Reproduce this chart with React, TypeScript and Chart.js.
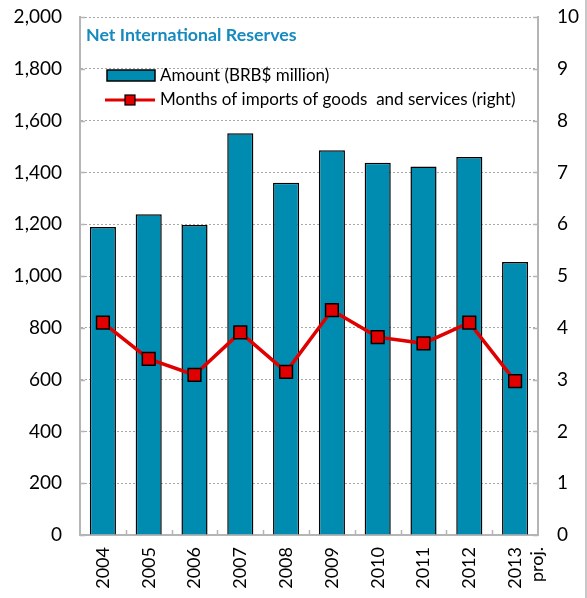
import React, { useEffect, useRef } from "react";
import { Chart, registerables } from "chart.js";

Chart.register(...registerables);

const years = ["2004", "2005", "2006", "2007", "2008", "2009", "2010", "2011", "2012", "2013"];
const projNote = "proj.";
const amounts = [1189, 1238, 1197, 1551, 1360, 1486, 1437, 1423, 1459, 1054];
const months = [4.1, 3.4, 3.09, 3.91, 3.15, 4.34, 3.82, 3.7, 4.1, 2.97];
const chartTitle = "Net International Reserves";
const amountLabel = "Amount (BRB$ million)";
const monthsLabel = "Months of imports of goods  and services (right)";

const FONT = "Lato, 'Open Sans', sans-serif";
const BAR = "#008BB0";
const RED = "#E00000";
const AXIS = "#B5B5B5";

const overlay = {
  id: "overlay",
  afterDraw(chart: any) {
    const ctx = chart.ctx;
    const a = chart.chartArea;
    const y = chart.scales.y;
    const y1 = chart.scales.y1;
    const x = chart.scales.x;
    ctx.save();
    ctx.strokeStyle = AXIS;
    ctx.lineWidth = 1.5;
    ctx.beginPath();
    for (let v = 0; v <= 2000; v += 200) {
      const py = Math.round(y.getPixelForValue(v)) + 0.5;
      ctx.moveTo(a.left, py);
      ctx.lineTo(a.left + 5, py);
    }
    for (let v = 0; v <= 10; v += 1) {
      const py = Math.round(y1.getPixelForValue(v)) + 0.5;
      ctx.moveTo(a.right - 5, py);
      ctx.lineTo(a.right, py);
    }
    const n = chart.data.labels.length;
    for (let i = 1; i < n; i++) {
      const px = Math.round((x.getPixelForValue(i - 1) + x.getPixelForValue(i)) / 2) + 0.5;
      ctx.moveTo(px, a.bottom);
      ctx.lineTo(px, a.bottom - 5);
    }
    ctx.stroke();
    ctx.beginPath();
    ctx.moveTo(chart.width - 1, 0);
    ctx.lineTo(chart.width - 1, chart.height);
    ctx.stroke();

    ctx.fillStyle = "#168ABF";
    ctx.font = `bold 17.8px ${FONT}`;
    ctx.textBaseline = "middle";
    ctx.textAlign = "left";
    ctx.fillText(chartTitle, a.left + 6, a.top + 18);

    const ds = chart.data.datasets;
    const barDs = ds.find((d: any) => d.type === "bar");
    const lineDs = ds.find((d: any) => d.type === "line");
    ctx.font = `17px ${FONT}`;
    ctx.fillStyle = BAR;
    ctx.fillRect(a.left + 27, a.top + 53, 48, 11);
    ctx.strokeStyle = "#000";
    ctx.lineWidth = 1.5;
    ctx.strokeRect(a.left + 27, a.top + 53, 48, 11);
    ctx.fillStyle = "#000";
    ctx.fillText(barDs.label, a.left + 80, a.top + 59);
    const ly = a.top + 83;
    ctx.strokeStyle = RED;
    ctx.lineWidth = 3;
    ctx.beginPath();
    ctx.moveTo(a.left + 25, ly);
    ctx.lineTo(a.left + 75, ly);
    ctx.stroke();
    ctx.fillStyle = RED;
    ctx.fillRect(a.left + 45, ly - 5, 10, 10);
    ctx.strokeStyle = "#000";
    ctx.lineWidth = 1.2;
    ctx.strokeRect(a.left + 45, ly - 5, 10, 10);
    ctx.fillStyle = "#000";
    ctx.fillText(lineDs.label, a.left + 80, ly);
    ctx.restore();
  },
};

export default function App() {
  const ref = useRef<HTMLCanvasElement>(null);
  useEffect(() => {
    if (!ref.current) return;
    const labels: any[] = years.map((yr, i) => (i === years.length - 1 ? [yr, projNote] : yr));
    const chart = new Chart(ref.current, {
      type: "bar",
      data: {
        labels,
        datasets: [
          {
            type: "line",
            label: monthsLabel,
            data: months,
            yAxisID: "y1",
            borderColor: RED,
            borderWidth: 3.5,
            pointStyle: "rect",
            pointRadius: 9,
            pointBackgroundColor: RED,
            pointBorderColor: "#000",
            pointBorderWidth: 1.5,
            order: 0,
          } as any,
          {
            type: "bar",
            label: amountLabel,
            data: amounts,
            yAxisID: "y",
            backgroundColor: BAR,
            borderColor: "#000",
            borderWidth: 1.5,
            barPercentage: 0.57,
            categoryPercentage: 1,
            order: 1,
          } as any,
        ],
      },
      options: {
        animation: false,
        responsive: false,
        maintainAspectRatio: false,
        layout: { padding: { top: 17, left: 0, right: 0, bottom: 0 } },
        plugins: { legend: { display: false }, tooltip: { enabled: false }, title: { display: false } },
        scales: {
          x: {
            grid: { display: false, drawTicks: false },
            border: { display: true, color: AXIS, width: 2 },
            ticks: {
              autoSkip: false,
              maxRotation: 90,
              minRotation: 90,
              padding: 12,
              color: "#000",
              font: { family: FONT, size: 18 },
            },
            afterFit(s: any) {
              s.height = 63;
              s.paddingLeft = 0;
              s.paddingRight = 0;
            },
          },
          y: {
            position: "left",
            min: 0,
            max: 2000,
            grid: { color: "#A8A8A8", drawTicks: false, lineWidth: 1 },
            border: { display: true, color: AXIS, width: 2, dash: [2, 2] },
            ticks: {
              stepSize: 200,
              padding: 18,
              color: "#000",
              font: { family: FONT, size: 19 },
              callback: (v: any) => Number(v).toLocaleString("en-US"),
            },
            afterFit(s: any) {
              s.width = 80;
              s.paddingTop = 0;
              s.paddingBottom = 0;
            },
          } as any,
          y1: {
            position: "right",
            min: 0,
            max: 10,
            grid: { drawOnChartArea: false, drawTicks: false },
            border: { display: true, color: AXIS, width: 2 },
            ticks: {
              stepSize: 1,
              padding: 19,
              color: "#000",
              font: { family: FONT, size: 19 },
            },
            afterFit(s: any) {
              s.width = 49;
              s.paddingTop = 0;
              s.paddingBottom = 0;
            },
          },
        },
      },
      plugins: [overlay],
    });
    return () => chart.destroy();
  }, []);
  return (
    <div style={{ position: "fixed", left: 0, top: 0, width: 587, height: 598, background: "#fff" }}>
      <canvas ref={ref} width={587} height={598} style={{ width: 587, height: 598 }} />
    </div>
  );
}
